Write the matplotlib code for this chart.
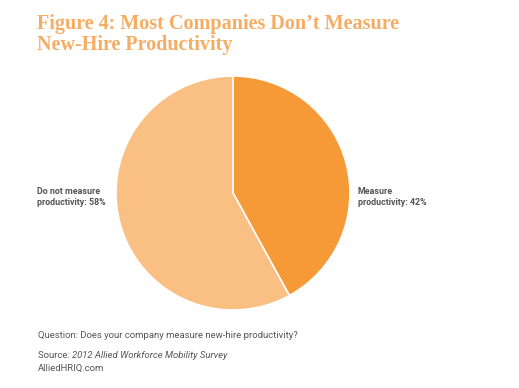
import matplotlib
matplotlib.use("Agg")
import matplotlib.pyplot as plt

# data
labels = ["Measure\nproductivity: 42%", "Do not measure\nproductivity: 58%"]
values = [42, 58]
colors = ["#F69A38", "#F9BF83"]

title = "Figure 4: Most Companies Don\u2019t Measure\nNew-Hire Productivity"
question = "Question: Does your company measure new-hire productivity?"

fig = plt.figure(figsize=(5.19, 3.88), dpi=100)
fig.patch.set_facecolor("white")

# pie axes: centre ~ (233, 193) px, radius ~117 px
r = 117
cx, cy = 233, 193
ax = fig.add_axes([(cx - r) / 519, 1 - (cy + r) / 388, 2 * r / 519, 2 * r / 388])
ax.pie(values, colors=colors, startangle=90, counterclock=False,
       wedgeprops=dict(edgecolor="white", linewidth=1.2))
ax.set_aspect("auto")
ax.set_xlim(-1, 1)
ax.set_ylim(-1, 1)
ax.axis("off")

# title
fig.text(37 / 519, 1 - 14 / 388, title, ha="left", va="top",
         fontsize=14.5, fontweight="bold", family="Liberation Serif",
         color="#F7AC63", linespacing=1.05)

# slice labels
txt = dict(fontsize=6.4, fontweight="bold", color="#555555", family="Roboto",
           va="center", ha="left", linespacing=1.35)
fig.text(358 / 519, 1 - 197 / 388, labels[0], **txt)
fig.text(37 / 519, 1 - 197 / 388, labels[1], **txt)

# footer
foot = dict(fontsize=6.8, color="#555555", family="Roboto", ha="left", va="center")
fig.text(38 / 519, 1 - 336 / 388, question, **foot)
fig.text(38 / 519, 1 - 356 / 388, "Source: ", **foot)
fig.text(72 / 519, 1 - 356 / 388, "2012 Allied Workforce Mobility Survey", style="italic", **foot)
fig.text(38 / 519, 1 - 368 / 388, "AlliedHRIQ.com", **foot)

fig.savefig("out.png", dpi=100)
